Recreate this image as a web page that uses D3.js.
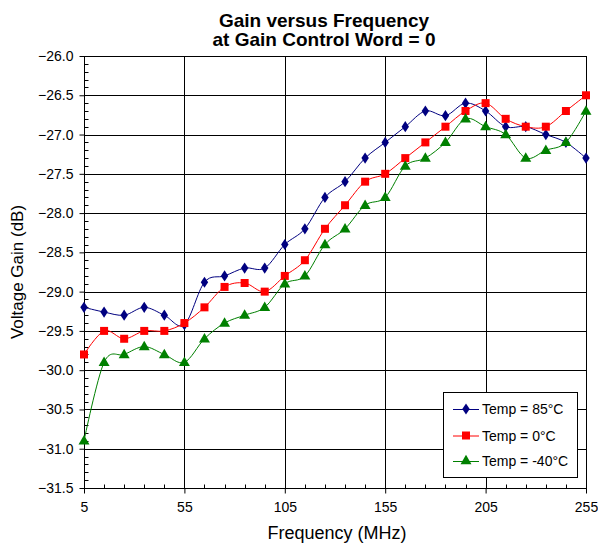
<!DOCTYPE html>
<html>
<head>
<meta charset="utf-8">
<script src="https://cdn.jsdelivr.net/npm/d3@7"></script>
<style>
  html, body { margin: 0; padding: 0; background: #fff; }
  svg { display: block; font-family: "Liberation Sans", Arial, sans-serif; }
</style>
</head>
<body>
<svg id="chart" width="598" height="544"></svg>
<script>
// ---- data ----
const freqs = [5, 15, 25, 35, 45, 55, 65, 75, 85, 95, 105, 115, 125, 135, 145, 155, 165, 175, 185, 195, 205, 215, 225, 235, 245, 255];
const gain85 = [-29.2, -29.26, -29.3, -29.2, -29.3, -29.42, -28.88, -28.8, -28.7, -28.7, -28.4, -28.2, -27.8, -27.6, -27.3, -27.1, -26.9, -26.7, -26.76, -26.6, -26.7, -26.9, -26.9, -27.0, -27.1, -27.3];
const gain0 = [-29.8, -29.5, -29.6, -29.5, -29.5, -29.4, -29.2, -28.94, -28.89, -29.0, -28.8, -28.6, -28.2, -27.9, -27.6, -27.5, -27.3, -27.1, -26.9, -26.7, -26.6, -26.8, -26.9, -26.9, -26.7, -26.5];
const gainM40 = [-30.9, -29.9, -29.8, -29.7, -29.8, -29.9, -29.6, -29.4, -29.3, -29.2, -28.9, -28.8, -28.4, -28.2, -27.9, -27.8, -27.4, -27.3, -27.1, -26.8, -26.9, -27.0, -27.3, -27.2, -27.1, -26.7];
const seriesNames = ["Temp = 85°C", "Temp = 0°C", "Temp = -40°C"];
const xTicks = [5, 55, 105, 155, 205, 255];
const xMinorTicks = [15, 25, 35, 45, 65, 75, 85, 95, 115, 125, 135, 145, 165, 175, 185, 195, 215, 225, 235, 245];
const yTicks = [-31.5, -31.0, -30.5, -30.0, -29.5, -29.0, -28.5, -28.0, -27.5, -27.0, -26.5, -26.0];
const yMinorStep = [0.1, 0.2, 0.3, 0.4];
const titleLines = ["Gain versus Frequency", "at Gain Control Word = 0"];
const xTitle = "Frequency (MHz)";
const yTitle = "Voltage Gain (dB)";

// ---- layout ----
const L = 84, R = 586, T = 56, B = 488;
const svg = d3.select("#chart");
const x = d3.scaleLinear().domain([5, 255]).range([L, R]);
const y = d3.scaleLinear().domain([-31.5, -26.0]).range([B, T]);
const px = v => Math.round(v) + 0.5;

// grid
const g = svg.append("g");
g.selectAll(".hg").data(yTicks).join("line")
  .attr("x1", L).attr("x2", R)
  .attr("y1", d => px(y(d))).attr("y2", d => px(y(d)))
  .attr("stroke", "#000").attr("stroke-width", 1);
g.selectAll(".vg").data(xTicks).join("line")
  .attr("y1", T).attr("y2", B)
  .attr("x1", d => px(x(d))).attr("x2", d => px(x(d)))
  .attr("stroke", "#000").attr("stroke-width", 1);

// minor ticks
const yMinor = [];
yTicks.slice(0, -1).forEach(t => yMinorStep.forEach(s => yMinor.push(t + s)));
g.selectAll(".ym").data(yMinor).join("line")
  .attr("x1", px(L)).attr("x2", px(L) + 4)
  .attr("y1", d => px(y(d))).attr("y2", d => px(y(d)))
  .attr("stroke", "#000");
g.selectAll(".xm").data(xMinorTicks).join("line")
  .attr("y1", px(B)).attr("y2", px(B) - 4)
  .attr("x1", d => px(x(d))).attr("x2", d => px(x(d)))
  .attr("stroke", "#000");

// axes
const yAxis = d3.axisLeft(y).tickValues(yTicks).tickFormat(d3.format(".1f")).tickSize(5).tickPadding(6);
const xAxis = d3.axisBottom(x).tickValues(xTicks).tickFormat(d3.format("d")).tickSize(5).tickPadding(9);
const ya = svg.append("g").attr("transform", `translate(${px(L)},0)`).call(yAxis);
const xa = svg.append("g").attr("transform", `translate(0,${px(B)})`).call(xAxis);
[ya, xa].forEach(a => {
  a.select(".domain").remove();
  a.selectAll("line").attr("stroke", "#000");
  a.selectAll("text").attr("font-size", 14).attr("fill", "#000")
    .attr("font-family", "'Liberation Sans', Arial, sans-serif");
});
// border
svg.append("rect").attr("x", px(L)).attr("y", px(T))
  .attr("width", Math.round(R) - Math.round(L)).attr("height", Math.round(B) - Math.round(T))
  .attr("fill", "none").attr("stroke", "#000").attr("stroke-width", 1);

// series
const colors = ["#000080", "#FF0000", "#008000"];
const datasets = [gain85, gain0, gainM40];
const symbols = [d3.symbolDiamond, d3.symbolSquare, d3.symbolTriangle];
const symSizes = [36, 64, 52];
const line = d3.line().x((d, i) => x(freqs[i])).y(d => y(d)).curve(d3.curveCardinal.tension(0));

datasets.forEach((ds, k) => {
  svg.append("path").datum(ds).attr("d", line)
    .attr("fill", "none").attr("stroke", colors[k]).attr("stroke-width", 1);
});
datasets.forEach((ds, k) => {
  svg.append("g").selectAll("path").data(ds).join("path")
    .attr("d", d3.symbol().type(symbols[k]).size(symSizes[k]))
    .attr("transform", (d, i) => {
      if (k === 0) return `translate(${x(freqs[i])},${y(d)}) scale(1.15,1)`;
      if (k === 2) return `translate(${x(freqs[i])},${y(d) + 0.5})`;
      return `translate(${x(freqs[i])},${y(d)})`;
    })
    .attr("fill", colors[k]);
});

// legend
const lg = svg.append("g");
lg.append("rect").attr("x", 443.5).attr("y", 392.5).attr("width", 134).attr("height", 85)
  .attr("fill", "#fff").attr("stroke", "#000");
const legY = [409, 435.5, 461];
seriesNames.forEach((name, k) => {
  lg.append("line").attr("x1", 453).attr("x2", 479).attr("y1", legY[k] + 0.5).attr("y2", legY[k] + 0.5)
    .attr("stroke", colors[k]);
  lg.append("path").attr("d", d3.symbol().type(symbols[k]).size(symSizes[k]))
    .attr("transform", k === 0 ? `translate(466,${legY[k]}) scale(1.15,1)` : `translate(466,${legY[k]})`)
    .attr("fill", colors[k]);
  lg.append("text").attr("x", 482).attr("y", legY[k] + 5).text(name)
    .attr("font-size", 14).attr("fill", "#000");
});

// titles
const tt = svg.append("text").attr("text-anchor", "middle").attr("font-weight", "bold")
  .attr("font-size", 19).attr("fill", "#000");
titleLines.forEach((t, i) => {
  tt.append("tspan").attr("x", 324).attr("y", 27 + i * 19).text(t);
});
svg.append("text").attr("x", 337).attr("y", 539).attr("text-anchor", "middle")
  .attr("font-size", 18).attr("fill", "#000").text(xTitle);
svg.append("text").attr("transform", `translate(23,${(T + B) / 2}) rotate(-90)`)
  .attr("text-anchor", "middle").attr("font-size", 17).attr("fill", "#000").text(yTitle);
</script>
</body>
</html>
